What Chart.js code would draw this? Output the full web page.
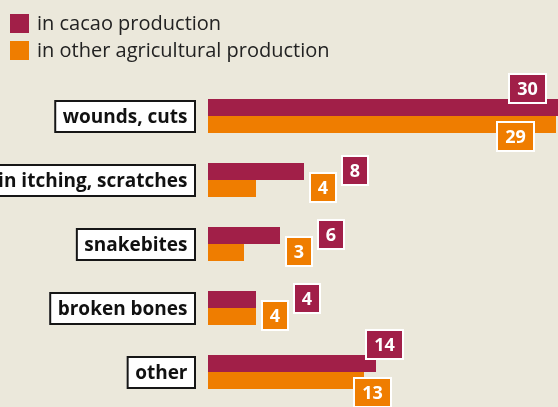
<!DOCTYPE html>
<html><head><meta charset="utf-8">
<script src="https://cdn.jsdelivr.net/npm/chart.js@4.4.1/dist/chart.umd.min.js"></script>
<style>html,body{margin:0;padding:0;background:#ebe8db;overflow:hidden}
#wrap{position:relative;width:558px;height:407px}</style>
</head><body><div id="wrap"><canvas id="c" width="558" height="407"></canvas></div>
<script>
const categories = ['wounds, cuts', 'skin itching, scratches', 'snakebites', 'broken bones', 'other'];
const seriesNames = ['in cacao production', 'in other agricultural production'];
const cacaoValues = [30, 8, 6, 4, 14];
const otherValues = [29, 4, 3, 4, 13];
const xMin = 0;
const xMax = 29.1667;

const BG = '#ebe8db';
const COLORS = ['#a11f48', '#ef7d00'];
const FONT = '"Open Sans", "Liberation Sans", sans-serif';

const bgPlugin = {
  id: 'bg',
  beforeDraw(chart) {
    const ctx = chart.ctx;
    ctx.save();
    ctx.fillStyle = BG;
    ctx.fillRect(0, 0, chart.width, chart.height);
    ctx.restore();
  }
};

const legendPlugin = {
  id: 'customLegend',
  afterDraw(chart) {
    const ctx = chart.ctx;
    ctx.save();
    chart.data.datasets.forEach((ds, k) => {
      const top = 14 + k * 27;
      ctx.fillStyle = ds.backgroundColor;
      ctx.fillRect(10, top, 19, 19);
      ctx.fillStyle = '#222222';
      ctx.font = '20px ' + FONT;
      ctx.textBaseline = 'middle';
      ctx.textAlign = 'left';
      ctx.fillText(ds.label, 37, top + 10);
    });
    ctx.restore();
  }
};

const catLabelPlugin = {
  id: 'catLabels',
  afterDraw(chart) {
    const ctx = chart.ctx;
    const yScale = chart.scales.y;
    ctx.save();
    ctx.font = 'bold 19px ' + FONT;
    chart.data.labels.forEach((lab, i) => {
      const cy = yScale.getPixelForValue(i);
      const w = ctx.measureText(lab).width + 17;
      const right = 196, h = 33;
      const left = right - w, top = Math.round(cy - h / 2);
      ctx.fillStyle = '#ffffff';
      ctx.fillRect(left, top, w, h);
      ctx.strokeStyle = '#161616';
      ctx.lineWidth = 2;
      ctx.strokeRect(left + 1, top + 1, w - 2, h - 2);
      ctx.fillStyle = '#111111';
      ctx.textAlign = 'center';
      ctx.textBaseline = 'middle';
      ctx.fillText(lab, left + w / 2, top + h / 2 + 1);
    });
    ctx.restore();
  }
};

const valueLabelPlugin = {
  id: 'valueLabels',
  afterDatasetsDraw(chart) {
    const ctx = chart.ctx;
    const area = chart.chartArea;
    ctx.save();
    ctx.font = 'bold 18px ' + FONT;
    const H = 31, PAD = 18;
    function box(text, color, left, top) {
      const w = Math.round(ctx.measureText(text).width + PAD);
      ctx.fillStyle = color;
      ctx.fillRect(left, top, w, H);
      ctx.strokeStyle = '#ffffff';
      ctx.lineWidth = 2;
      ctx.strokeRect(left + 1, top + 1, w - 2, H - 2);
      ctx.fillStyle = '#ffffff';
      ctx.textAlign = 'center';
      ctx.textBaseline = 'middle';
      ctx.fillText(text, left + w / 2, top + H / 2 + 1);
      return left + w;
    }
    const m0 = chart.getDatasetMeta(0).data;
    const m1 = chart.getDatasetMeta(1).data;
    chart.data.labels.forEach((lab, i) => {
      const b0 = m0[i], b1 = m1[i];
      const v0 = chart.data.datasets[0].data[i], v1 = chart.data.datasets[1].data[i];
      const t0 = String(v0), t1 = String(v1);
      const w0 = ctx.measureText(t0).width + PAD, w1 = ctx.measureText(t1).width + PAD;
      const center = (b0.y + b1.y) / 2;
      if (Math.max(v0, v1) >= 10) {
        const top0 = b0.y - b0.height / 2, top1 = b1.y - b1.height / 2;
        let cx0 = b0.x + 8; if (cx0 + w0 / 2 > area.right - 5) cx0 = b0.x - 41;
        let cx1 = b1.x + 8; if (cx1 + w1 / 2 > area.right - 5) cx1 = b1.x - 41;
        box(t0, COLORS[0], Math.round(cx0 - w0 / 2), Math.round(top0 + 5 - H));
        box(t1, COLORS[1], Math.round(cx1 - w1 / 2), Math.round(top1 + 5));
      } else {
        const end = Math.max(b0.x, b1.x);
        const r1 = box(t1, COLORS[1], Math.round(end + 5), Math.round(center - 8));
        box(t0, COLORS[0], r1 + 4, Math.round(center - 25));
      }
    });
    ctx.restore();
  }
};

new Chart(document.getElementById('c'), {
  type: 'bar',
  data: {
    labels: categories,
    datasets: [
      { label: seriesNames[0], data: cacaoValues, backgroundColor: COLORS[0] },
      { label: seriesNames[1], data: otherValues, backgroundColor: COLORS[1] }
    ]
  },
  options: {
    indexAxis: 'y',
    responsive: false,
    animation: false,
    devicePixelRatio: 1,
    datasets: { bar: { categoryPercentage: 0.53125, barPercentage: 1.0, borderWidth: 0 } },
    layout: { padding: { left: 208, top: 84, right: 0, bottom: 3 } },
    plugins: { legend: { display: false }, tooltip: { enabled: false }, title: { display: false } },
    scales: {
      x: { display: false, min: xMin, max: xMax },
      y: { display: false }
    }
  },
  plugins: [bgPlugin, legendPlugin, catLabelPlugin, valueLabelPlugin]
});
</script></body></html>
